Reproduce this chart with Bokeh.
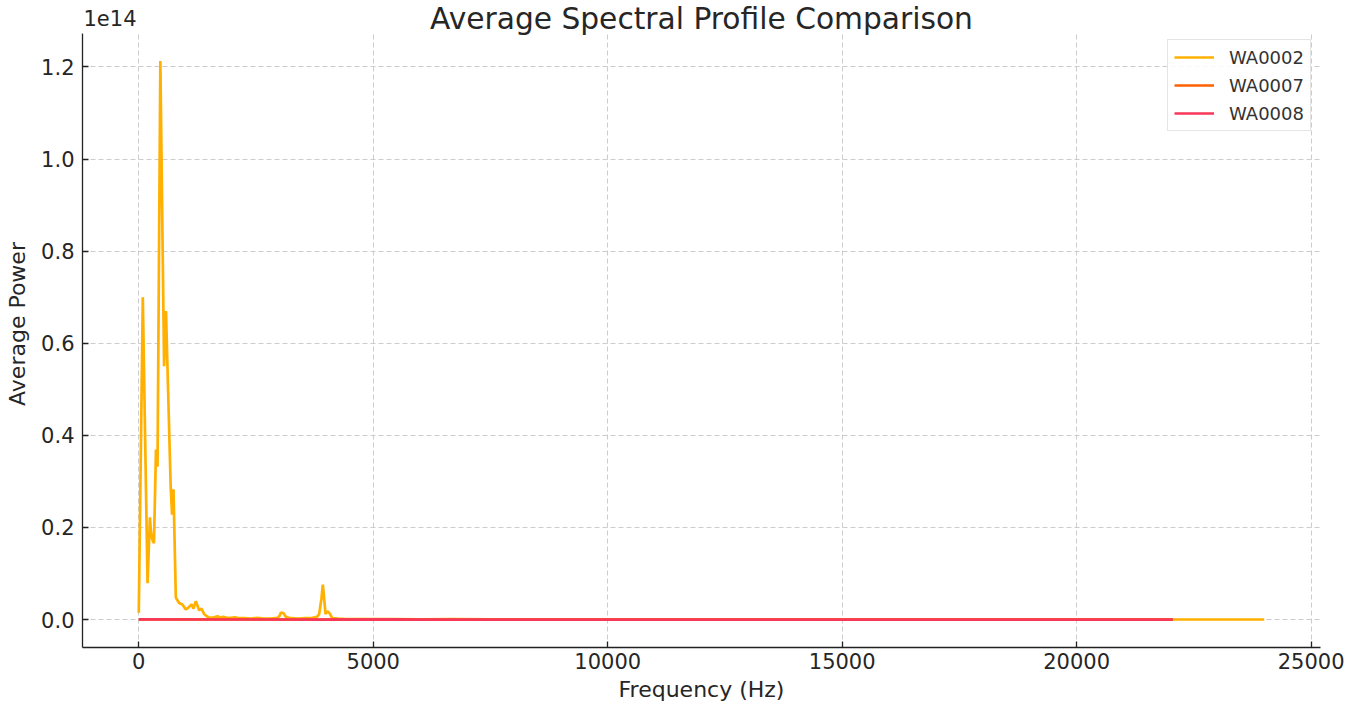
from bokeh.plotting import figure
from bokeh.models import (Range1d, FixedTicker, CustomJSTickFormatter, Label, Legend, LegendItem,
                          BoxAnnotation)
from bokeh.embed import file_html
from bokeh.resources import INLINE

# ---- data (power values; the axis shows them in units of 1e14) ----
wa0002_freq = [0, 86, 187, 238, 260, 288, 324, 367, 400, 460, 540, 580, 680, 710, 740, 790,
               860, 930, 1003, 1060, 1123, 1166, 1216, 1260, 1287, 1337, 1394, 1465, 1520, 1600,
               1678, 1750, 1800, 1880, 1962, 2050, 2150, 2250, 2400, 2531, 2650, 2800, 2958, 3000,
               3029, 3086, 3135, 3242, 3400, 3550, 3700, 3800, 3847, 3896, 3925, 3953, 3982, 4024,
               4074, 4124, 4250, 4380, 4600, 5000, 5400, 6000, 6700, 7500, 9000, 11000, 13000,
               15000, 17000, 19000, 21000, 22000, 23000, 24000]
wa0002_power = [0.015, 0.70, 0.079, 0.222, 0.19, 0.174, 0.166, 0.369, 0.332, 1.213, 0.55, 0.67,
                0.29, 0.228, 0.283, 0.048,
                0.036, 0.033, 0.022, 0.026, 0.033, 0.024, 0.040, 0.028, 0.020, 0.024, 0.012, 0.006,
                0.004, 0.005, 0.007, 0.004, 0.006, 0.004, 0.004, 0.005, 0.003, 0.003, 0.002, 0.004,
                0.002, 0.002, 0.004, 0.008, 0.015, 0.014, 0.006, 0.003, 0.002, 0.003, 0.004, 0.006,
                0.012, 0.046, 0.076, 0.046, 0.012, 0.018, 0.013, 0.003, 0.002, 0.0015, 0.001, 0.001,
                0.0008, 0.0006, 0.0012, 0.0005, 0.0004, 0.0003, 0.0003, 0.0002, 0.0002, 0.0002,
                0.0002, 0.0002, 0.0002, 0.0002]
wa0007_freq = [0, 1000, 2000, 4000, 6000, 8000, 10000, 12000, 14000, 16000, 18000, 20000, 22050]
wa0007_power = [0.0004, 0.0003, 0.0002, 0.0002, 0.0001, 0.0001, 0.0001, 0.0001, 0.0001, 0.0001,
                0.0001, 0.0001, 0.0001]
wa0008_freq = [0, 1000, 2000, 4000, 5400, 6000, 8000, 10000, 12000, 14000, 16000, 18000, 20000, 22050]
wa0008_power = [0.0003, 0.0002, 0.0002, 0.0001, 0.0004, 0.0001, 0.0001, 0.0001, 0.0001, 0.0001,
                0.0001, 0.0001, 0.0001, 0.0001]
SCALE = 1e14
y_ticks = [0.0, 0.2, 0.4, 0.6, 0.8, 1.0, 1.2]
x_ticks = [0, 5000, 10000, 15000, 20000, 25000]
series_names = ["WA0002", "WA0007", "WA0008"]
colors = ["#FFB000", "#FE6100", "#F73859"]

FONT = "DejaVu Sans"
TXT = "#262626"

Y_LO, Y_HI = -0.0606 * SCALE, 1.2726 * SCALE      # visible axes box
Y_TOP = 1.3442 * SCALE                            # frame extends to the top of the page

p = figure(frame_width=1238, frame_height=647, output_backend="svg", toolbar_location=None,
           x_range=Range1d(-1200, 25200), y_range=Range1d(Y_LO, Y_TOP),
           min_border_left=82, min_border_right=35, min_border_top=0, min_border_bottom=62)
p.outline_line_color = None
p.background_fill_color = "white"
p.border_fill_color = "white"

series = [(wa0002_freq, wa0002_power), (wa0007_freq, wa0007_power), (wa0008_freq, wa0008_power)]
items = []
for (fx, fy), name, c in zip(series, series_names, colors):
    r = p.line(fx, [v * SCALE for v in fy], line_color=c, line_width=2.7)
    items.append(LegendItem(label=name, renderers=[r]))

# white strip above the axes box (hides grid lines there)
p.add_layout(BoxAnnotation(bottom=Y_HI, fill_color="white", fill_alpha=1.0, line_color=None))

legend = Legend(items=items, location=(1085, 516))
legend.label_text_font = FONT
legend.label_text_font_size = "18px"
legend.label_text_color = "#333333"
legend.glyph_width = 40
legend.glyph_height = 22
legend.label_height = 22
legend.label_standoff = 15
legend.spacing = 6
legend.padding = 6
legend.margin = 0
legend.border_line_color = "#cccccc"
legend.border_line_width = 1
legend.background_fill_alpha = 0.85
p.add_layout(legend)

p.xaxis.ticker = FixedTicker(ticks=x_ticks)
p.yaxis.ticker = FixedTicker(ticks=[t * SCALE for t in y_ticks])
p.yaxis.formatter = CustomJSTickFormatter(code="return (tick/1e14).toFixed(1);")
p.yaxis.bounds = (Y_LO, Y_HI)

for ax in (p.xaxis[0], p.yaxis[0]):
    ax.axis_line_color = "#222222"
    ax.axis_line_width = 1.3
    ax.major_tick_line_color = "#222222"
    ax.major_tick_line_width = 1.3
    ax.major_tick_in = 6
    ax.major_tick_out = 0
    ax.minor_tick_line_color = None
    ax.major_label_text_font = FONT
    ax.major_label_text_font_size = "21px"
    ax.major_label_text_color = TXT
    ax.major_label_standoff = 8
    ax.axis_label_text_font = FONT
    ax.axis_label_text_font_size = "22px"
    ax.axis_label_text_font_style = "normal"
    ax.axis_label_text_color = TXT
    ax.axis_label_standoff = 8

p.xaxis[0].major_label_standoff = 5
p.xaxis[0].axis_label_standoff = 5
p.xaxis.axis_label = "Frequency (Hz)"
p.yaxis.axis_label = "Average Power"

for g in (p.xgrid[0], p.ygrid[0]):
    g.grid_line_color = "#cccccc"
    g.grid_line_dash = "5 3"
    g.grid_line_width = 1

p.add_layout(Label(x=619, y=629, x_units="screen", y_units="screen",
                   text="Average Spectral Profile Comparison", text_align="center",
                   text_baseline="alphabetic", text_font=FONT, text_font_size="29.7px",
                   text_color=TXT))
p.add_layout(Label(x=1, y=630, x_units="screen", y_units="screen", text="1e14",
                   text_align="left", text_baseline="alphabetic", text_font=FONT,
                   text_font_size="21px", text_color=TXT))

open("out.html", "w").write(file_html(p, INLINE))
